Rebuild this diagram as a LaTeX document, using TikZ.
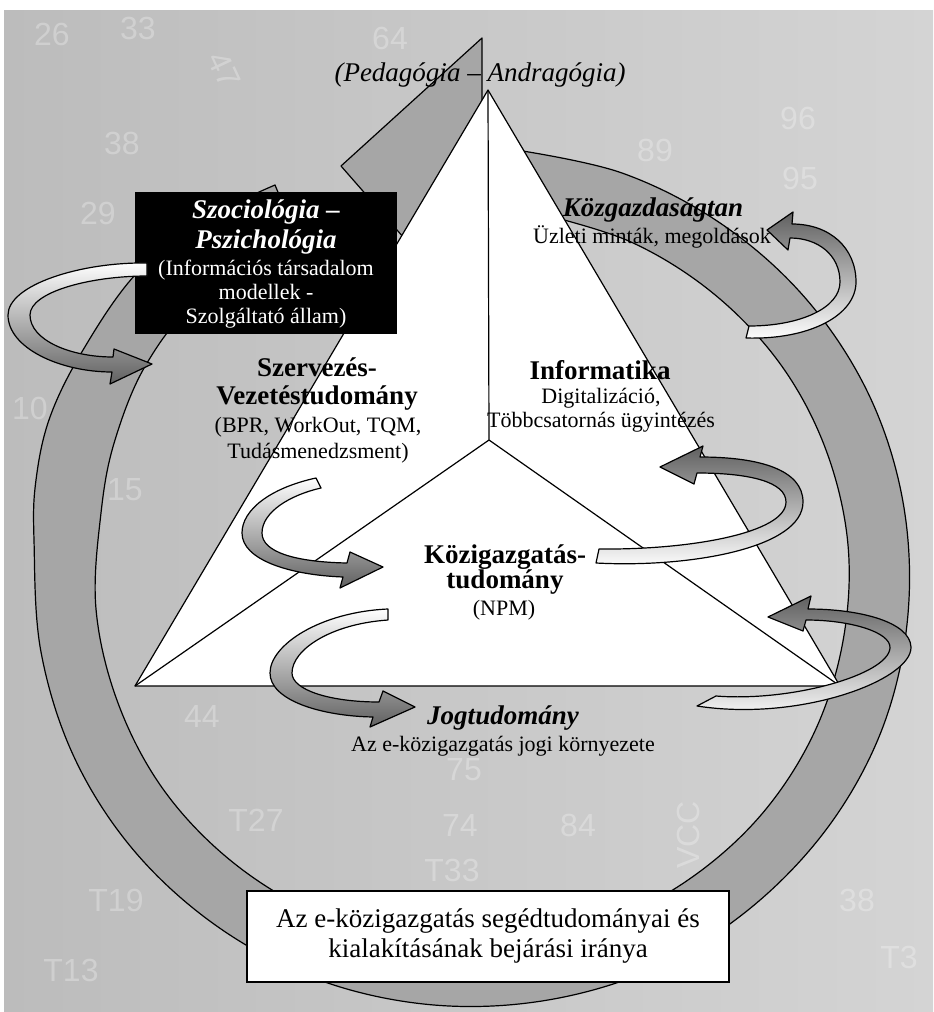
\documentclass[tikz,border=0pt]{standalone}
\usepackage{fontspec}
\setmainfont{Liberation Serif}
\newfontfamily\numfont{Liberation Sans}

\definecolor{bgleft}{RGB}{188,188,188}
\definecolor{bgright}{RGB}{212,212,212}
\definecolor{ringgray}{RGB}{166,166,166}
\definecolor{turndark}{RGB}{96,96,96}

\tikzset{
  band/.style={fill=ringgray, draw=black, line width=0.6pt, line join=round},
  turndown/.style={draw=black, line width=0.6pt, line join=round, top color=white, bottom color=turndark},
  turnup/.style={draw=black, line width=0.6pt, line join=round, top color=turndark, bottom color=white},
  titletxt/.style={font=\fontsize{13.5}{14}\selectfont\bfseries, align=center, inner sep=0pt},
  titleital/.style={font=\fontsize{13.5}{15}\selectfont\bfseries\itshape, align=center, inner sep=0pt},
  subtxt/.style={font=\fontsize{11}{12.5}\selectfont, align=center, inner sep=0pt},
  bgnum/.style={text=white, text opacity=0.28, font=\numfont\fontsize{16}{16}\selectfont, inner sep=0pt}
}

\begin{document}
\begin{tikzpicture}[x=0.5pt,y=0.5pt,yscale=-1]
\useasboundingbox (0,0) rectangle (933,1012);
\fill[white] (0,0) rectangle (933,1012);
\shade[left color=bgleft, right color=bgright] (4,10) rectangle (933,1012);

% faint numbers of the board behind
\node[bgnum] (n26) at (52,34) {26};
\node[bgnum] (n33) at (138,28) {33};
\node[bgnum, rotate=-65] (n47) at (224,70) {47};
\node[bgnum] (n64) at (390,38) {64};
\node[bgnum] (n96) at (798,118) {96};
\node[bgnum] (n89) at (655,150) {89};
\node[bgnum] (n95) at (800,178) {95};
\node[bgnum] (n38) at (122,143) {38};
\node[bgnum] (n29) at (98,213) {29};
\node[bgnum] (n10) at (30,408) {10};
\node[bgnum] (n15) at (125,490) {15};
\node[bgnum] (n44) at (202,716) {44};
\node[bgnum] (n75) at (464,770) {75};
\node[bgnum] (nT27) at (256,820) {T27};
\node[bgnum] (n74) at (460,825) {74};
\node[bgnum] (n84) at (578,825) {84};
\node[bgnum] (nT33) at (452,870) {T33};
\node[bgnum, rotate=90] (nvcc) at (688,835) {VCC};
\node[bgnum] (nT19) at (116,900) {T19};
\node[bgnum] (nT13) at (71,970) {T13};
\node[bgnum] (n38b) at (857,900) {38};
\node[bgnum] (nT3) at (899,957) {T3};

% the big circular arrow
\draw[band] plot[smooth, tension=0.6] coordinates {(510,149) (622,173) (723,225) (807,300) (869,395) (903,502) (908,614) (884,724) (831,823) (753,906) (657,967) (548,1000) (434,1005) (322,981) (221,929) (136,853) (75,759) (41,652) (34,540) (36,480) (50,417) (83,350) (135,275) (200,222) (275,185)}
  -- plot[smooth, tension=0.6] coordinates {(300,245) (200,300) (147,363) (115,440) (101,513) (96,609) (118,703) (163,789) (230,860) (313,912) (406,941) (505,946) (601,925) (688,880) (761,815) (814,733) (843,641) (848,545) (826,450) (781,365) (714,294) (631,242) (537,213)} -- cycle;
\draw[band] (482,38) -- (341,166) -- (425,262) -- (482,262) -- cycle;

% triangle
\coordinate (apex) at (488,90);
\coordinate (lcorner) at (135,686);
\coordinate (rcorner) at (840,686);
\coordinate (hub) at (489,440);
\draw[fill=white, line width=0.6pt, line join=round] (apex) -- (rcorner) -- (lcorner) -- cycle;
\draw[line width=0.6pt] (apex) -- (hub) -- (lcorner) (hub) -- (rcorner);

\node[font=\fontsize{13.5}{15}\selectfont\itshape, inner sep=0pt] (pedag) at (480,75) {(Pedagógia – Andragógia)};

% black box
\node[fill=black, minimum width=131pt, minimum height=71pt, inner sep=0pt] (sociobox) at (266,263) {};
\draw[turndown] (147,263) .. controls (80,262) and (8,285) .. (8,315) .. controls (8,348) and (60,372) .. (112,372) -- (110,384) -- (152,364) -- (114,349) -- (113,357) .. controls (70,357) and (30,340) .. (30,315) .. controls (30,292) and (90,276) .. (147,276) -- cycle;
\node[titleital, text=white] (socio) at (266,227) {Szociológia –\\Pszichológia};
\node[subtxt, text=white, font=\fontsize{11}{12}\selectfont] (sociosub) at (266,294) {(Információs társadalom\\modellek -\\Szolgáltató állam)};

% turning arrows
\draw[turnup] (746,338) .. controls (810,340) and (856,315) .. (856,282) .. controls (856,248) and (830,224) .. (792,224) -- (793,212) -- (767,230) -- (788,250) -- (790,238) .. controls (818,238) and (840,255) .. (840,282) .. controls (840,308) and (800,326) .. (749,326) -- cycle;
\draw[turnup] (596,563) .. controls (690,568) and (803,548) .. (803,502) .. controls (803,470) and (760,457) .. (700,457) -- (703,446) -- (660,467) -- (694,484) -- (697,473) .. controls (750,473) and (786,482) .. (786,502) .. controls (786,533) and (690,550) .. (599,549) -- cycle;
\draw[turnup] (697,706) .. controls (800,722) and (912,680) .. (911,647) .. controls (910,622) and (860,609) .. (808,609) -- (811,596) -- (768,617) -- (803,631) -- (806,620) .. controls (850,620) and (891,632) .. (890,648) .. controls (888,675) and (790,702) .. (716,696) -- cycle;
\draw[turndown] (316,478) .. controls (270,488) and (242,510) .. (242,533) .. controls (242,560) and (290,575) .. (343,577) -- (340,588) -- (383,567) -- (350,552) -- (347,563) .. controls (295,562) and (262,552) .. (262,533) .. controls (262,512) and (290,495) .. (321,488) -- cycle;
\draw[turndown] (388,609) .. controls (320,612) and (270,645) .. (270,673) .. controls (270,700) and (320,716) .. (373,717) -- (370,727) -- (415,707) -- (383,691) -- (379,702) .. controls (330,702) and (292,690) .. (292,673) .. controls (292,650) and (330,624) .. (388,620) -- cycle;

% labels
\node[titletxt] (szerv) at (317,384) {Szervezés-\\Vezetéstudomány};
\node[subtxt, font=\fontsize{11}{13}\selectfont] (szervsub) at (318,440) {(BPR, WorkOut, TQM,\\Tudásmenedzsment)};
\node[titletxt] (info) at (600,370) {Informatika};
\node[subtxt, font=\fontsize{11}{12}\selectfont] (infosub) at (601,410) {Digitalizáció,\\Többcsatornás ügyintézés};
\node[titleital] (kozg) at (653,210) {Közgazdaságtan};
\node[subtxt] (kozgsub) at (652,237) {Üzleti minták, megoldások};
\node[titletxt, font=\fontsize{13.5}{12.5}\selectfont\bfseries] (kozig) at (505,570) {Közigazgatás-\\tudomány};
\node[subtxt] (kozigsub) at (504,610) {(NPM)};
\node[titleital] (jog) at (503,718) {Jogtudomány};
\node[subtxt] (jogsub) at (503,746) {Az e-közigazgatás jogi környezete};

\node[draw=black, fill=white, line width=0.8pt, minimum width=241pt, minimum height=45.5pt, align=center, font=\fontsize{13.5}{15}\selectfont] (caption) at (488,936.5) {Az e-közigazgatás segédtudományai és\\kialakításának bejárási iránya};
\end{tikzpicture}
\end{document}
